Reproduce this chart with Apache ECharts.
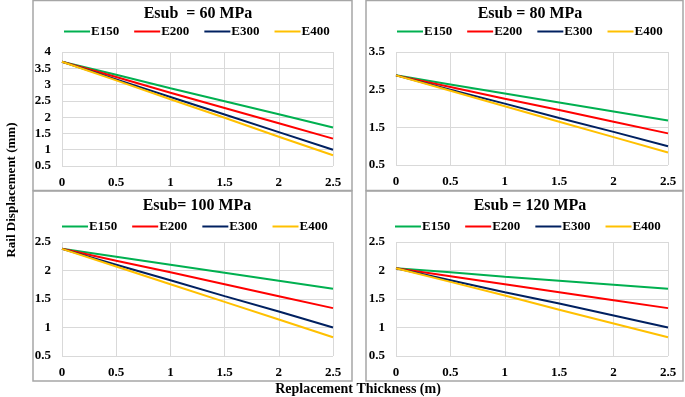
<!DOCTYPE html>
<html>
<head>
<meta charset="utf-8">
<script src="https://cdn.jsdelivr.net/npm/echarts@6/dist/echarts.min.js"></script>
<style>
html, body { margin: 0; padding: 0; background: #fff; }
#main { width: 685px; height: 397px; }
</style>
</head>
<body>
<div id="main"></div>
<script>
var myChart = echarts.init(document.getElementById('main'));

// replacement thickness (m)
var thickness = [0, 0.5, 1, 1.5, 2, 2.5];
var seriesNames = ['E150', 'E200', 'E300', 'E400'];
var panelTitles = ['Esub  = 60 MPa', 'Esub = 80 MPa', 'Esub= 100 MPa', 'Esub = 120 MPa'];

// rail displacement (mm), one array per Esub panel: E150, E200, E300, E400
var esub60 = [
	[3.70, 3.30, 2.89, 2.49, 2.09, 1.68],
	[3.70, 3.23, 2.75, 2.28, 1.81, 1.34],
	[3.70, 3.16, 2.62, 2.08, 1.54, 1.00],
	[3.70, 3.13, 2.55, 1.98, 1.40, 0.83]
];
var esub80 = [
	[2.88, 2.64, 2.40, 2.16, 1.92, 1.68],
	[2.88, 2.57, 2.26, 1.96, 1.65, 1.34],
	[2.88, 2.50, 2.13, 1.75, 1.38, 1.00],
	[2.88, 2.47, 2.06, 1.65, 1.24, 0.83]
];
var esub100 = [
	[2.38, 2.24, 2.10, 1.96, 1.82, 1.68],
	[2.38, 2.17, 1.97, 1.76, 1.55, 1.34],
	[2.38, 2.10, 1.83, 1.55, 1.28, 1.00],
	[2.38, 2.07, 1.76, 1.45, 1.14, 0.83]
];
var esub120 = [
	[2.04, 1.97, 1.89, 1.82, 1.75, 1.68],
	[2.04, 1.90, 1.76, 1.62, 1.48, 1.34],
	[2.04, 1.83, 1.62, 1.42, 1.21, 1.00],
	[2.04, 1.80, 1.56, 1.31, 1.07, 0.83]
];
var panelData = [esub60, esub80, esub100, esub120];

// y axis ranges per panel
var yMax = [4, 3.5, 2.5, 2.5];
var yInterval = [0.5, 1, 0.5, 0.5];

var colors = ['#00B050', '#FF0000', '#002060', '#FFC000'];
var font = '"Liberation Serif", "Times New Roman", serif';

// layout of the four panels
var grids = [
	{ left: 62, top: 52, width: 271, height: 114 },
	{ left: 396, top: 52, width: 272, height: 113 },
	{ left: 62, top: 242, width: 271, height: 114 },
	{ left: 396, top: 242, width: 272, height: 114 }
];
var titlePos = [[193, 1], [525, 1], [192, 193], [525, 193]];
var legendPos = [[64, 25], [397, 25], [62, 220], [395, 220]];

var title = [], legend = [], xAxis = [], yAxis = [], series = [];
for (var p = 0; p < 4; p++) {
	title.push({
		text: panelTitles[p],
		left: titlePos[p][0],
		top: titlePos[p][1],
		textAlign: 'center',
		textStyle: { fontFamily: font, fontWeight: 'bold', fontSize: 16, color: '#000' }
	});
	legend.push({
		left: legendPos[p][0],
		top: legendPos[p][1],
		padding: 0,
		icon: 'rect',
		itemWidth: 26,
		itemHeight: 2,
		itemGap: 15,
		data: seriesNames.map(function (n) { return { name: n }; }),
		textStyle: { fontFamily: font, fontWeight: 'bold', fontSize: 13, color: '#000', padding: [0, 0, 0, -4] }
	});
	xAxis.push({
		gridIndex: p,
		type: 'value',
		min: 0,
		max: 2.5,
		interval: 0.5,
		axisLine: { show: false },
		axisTick: { show: false },
		axisLabel: { fontFamily: font, fontWeight: 'bold', fontSize: 13, color: '#000', margin: 10 },
		splitLine: { show: true, lineStyle: { color: '#d9d9d9', width: 1 } }
	});
	yAxis.push({
		gridIndex: p,
		type: 'value',
		min: 0.5,
		max: yMax[p],
		interval: yInterval[p],
		axisLine: { show: false },
		axisTick: { show: false },
		axisLabel: { fontFamily: font, fontWeight: 'bold', fontSize: 13, color: '#000', margin: 11 },
		splitLine: { show: true, lineStyle: { color: '#d9d9d9', width: 1 } }
	});
	for (var s = 0; s < 4; s++) {
		var pts = [];
		for (var i = 0; i < thickness.length; i++) {
			pts.push([thickness[i], panelData[p][s][i]]);
		}
		series.push({
			name: seriesNames[s],
			type: 'line',
			xAxisIndex: p,
			yAxisIndex: p,
			data: pts,
			showSymbol: false,
			symbol: 'none',
			color: colors[s],
			lineStyle: { width: 2, color: colors[s] },
			z: 2 + s
		});
	}
}

var panelBox = function (x, y, w, h) {
	return {
		type: 'rect',
		shape: { x: x, y: y, width: w, height: h },
		style: { fill: 'none', stroke: '#a6a6a6', lineWidth: 1.5 },
		silent: true
	};
};

option = {
	backgroundColor: '#fff',
	animation: false,
	title: title,
	legend: legend,
	grid: grids,
	xAxis: xAxis,
	yAxis: yAxis,
	series: series,
	graphic: [
		panelBox(33, 0.5, 319, 190),
		panelBox(366, 0.5, 317, 190),
		panelBox(33, 191, 319, 190),
		panelBox(366, 191, 317, 190),
		{
			type: 'text',
			x: 12,
			y: 190,
			rotation: Math.PI / 2,
			style: {
				text: 'Rail Displacement (mm)',
				fontFamily: font,
				fontWeight: 'bold',
				fontSize: 13,
				fill: '#000',
				align: 'center',
				verticalAlign: 'middle'
			}
		},
		{
			type: 'text',
			x: 358,
			y: 389,
			style: {
				text: 'Replacement Thickness (m)',
				fontFamily: font,
				fontWeight: 'bold',
				fontSize: 14,
				fill: '#000',
				align: 'center',
				verticalAlign: 'middle'
			}
		}
	]
};

myChart.setOption(option);
</script>
</body>
</html>
